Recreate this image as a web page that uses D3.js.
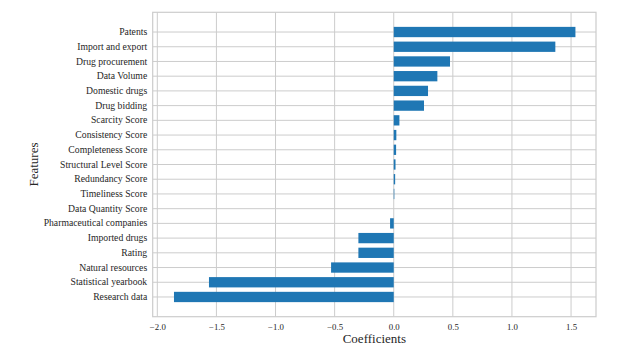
<!DOCTYPE html>
<html><head><meta charset="utf-8">
<script src="https://cdn.jsdelivr.net/npm/d3@7"></script>
<style>body{margin:0;background:#fff}svg{display:block}</style>
</head><body><div id="chart"></div>
<script>
const features = ["Patents","Import and export","Drug procurement","Data Volume","Domestic drugs","Drug bidding","Scarcity Score","Consistency Score","Completeness Score","Structural Level Score","Redundancy Score","Timeliness Score","Data Quantity Score","Pharmaceutical companies","Imported drugs","Rating","Natural resources","Statistical yearbook","Research data"];
const coefficients = [1.537,1.367,0.476,0.369,0.290,0.256,0.048,0.022,0.020,0.015,0.012,0.005,0.0,-0.031,-0.299,-0.299,-0.530,-1.563,-1.859];
const xTicks = [-2.0,-1.5,-1.0,-0.5,0.0,0.5,1.0,1.5];
const xDomain = [-2.039, 1.711];

(function(){
const W = 630, H = 357;
const mLeft = 152.7, mRight = 596, mTop = 12.3, mBottom = 316.7;
const font = "'Liberation Serif','Times New Roman',serif";
const textColor = "#262626", gridColor = "#cccccc";

const svg = d3.select("#chart").append("svg").attr("width", W).attr("height", H);

const x = d3.scaleLinear().domain(xDomain).range([mLeft, mRight]);
const y = d3.scaleBand().domain(features).range([mTop, mBottom]).paddingInner(0.3).paddingOuter(0.99);
const cy = d => y(d) + y.bandwidth()/2;

// grid
svg.append("g").selectAll("line").data(xTicks).join("line")
  .attr("x1", d => x(d)).attr("x2", d => x(d)).attr("y1", mTop).attr("y2", mBottom)
  .attr("stroke", gridColor).attr("stroke-width", 1);
svg.append("g").selectAll("line").data(features).join("line")
  .attr("x1", mLeft).attr("x2", mRight)
  .attr("y1", cy).attr("y2", cy)
  .attr("stroke", gridColor).attr("stroke-width", 1);

// bars
svg.append("g").selectAll("rect").data(features).join("rect")
  .attr("x", (d,i) => x(Math.min(0, coefficients[i])))
  .attr("width", (d,i) => Math.abs(x(coefficients[i]) - x(0)))
  .attr("y", d => y(d))
  .attr("height", y.bandwidth())
  .attr("fill", "#1f77b4");

// spines
svg.append("rect").attr("x", mLeft).attr("y", mTop).attr("width", mRight-mLeft).attr("height", mBottom-mTop)
  .attr("fill", "none").attr("stroke", gridColor).attr("stroke-width", 1.2);

// x axis
const xAxis = d3.axisBottom(x).tickValues(xTicks).tickSize(0).tickPadding(7)
  .tickFormat(d => d3.format(".1f")(d).replace("-", "\u2212"));
const gx = svg.append("g").attr("transform", `translate(0,${mBottom})`).call(xAxis);
gx.select(".domain").remove();
gx.selectAll("text").attr("font-family", font).attr("font-size", 8.8).attr("fill", textColor);

// y axis
const yAxis = d3.axisLeft(y).tickSize(0).tickPadding(5.5);
const gy = svg.append("g").attr("transform", `translate(${mLeft},0)`).call(yAxis);
gy.select(".domain").remove();
gy.selectAll("text").attr("font-family", font).attr("font-size", 9.7).attr("fill", textColor);

// axis titles
svg.append("text").attr("x", (mLeft+mRight)/2).attr("y", 343).attr("text-anchor", "middle")
  .attr("font-family", font).attr("font-size", 13).attr("fill", textColor).text("Coefficients");
svg.append("text").attr("transform", `translate(38,${(mTop+mBottom)/2}) rotate(-90)`).attr("text-anchor", "middle")
  .attr("font-family", font).attr("font-size", 13).attr("fill", textColor).text("Features");
})();
</script></body></html>
